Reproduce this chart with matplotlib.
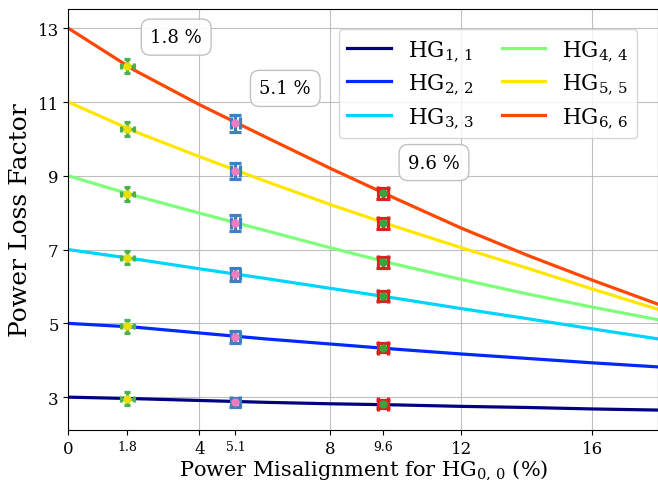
import matplotlib.pyplot as plt
import numpy as np

plt.rcParams['font.family'] = 'DejaVu Serif'
plt.rcParams['mathtext.fontset'] = 'dejavuserif'

# curves
x_curve = [0, 2, 4, 6, 8, 10, 12, 14, 16, 18]
hg11 = [3.00, 2.96, 2.91, 2.86, 2.82, 2.79, 2.75, 2.72, 2.68, 2.65]
hg22 = [5.00, 4.90, 4.74, 4.58, 4.44, 4.30, 4.17, 4.05, 3.93, 3.82]
hg33 = [7.00, 6.75, 6.48, 6.22, 5.95, 5.68, 5.40, 5.13, 4.85, 4.58]
hg44 = [9.00, 8.47, 7.99, 7.52, 7.05, 6.60, 6.19, 5.80, 5.44, 5.10]
hg55 = [11.00, 10.21, 9.52, 8.86, 8.22, 7.62, 7.05, 6.50, 5.93, 5.38]
hg66 = [13.00, 11.87, 10.93, 10.06, 9.20, 8.38, 7.58, 6.85, 6.17, 5.52]
curves = [hg11, hg22, hg33, hg44, hg55, hg66]
labels = [r'HG$_{%d,\,%d}$' % (n, n) for n in range(1, 7)]

# measured points
x_meas = [1.8, 5.1, 9.6]
y_18 = [2.96, 4.92, 6.78, 8.52, 10.27, 11.97]
y_51 = [2.86, 4.63, 6.33, 7.72, 9.13, 10.42]
y_96 = [2.81, 4.34, 5.74, 6.66, 7.72, 8.53]
yerr_18 = [0.18, 0.18, 0.18, 0.19, 0.19, 0.19]
yerr_51 = [0.13, 0.15, 0.17, 0.22, 0.22, 0.22]
yerr_96 = [0.10, 0.12, 0.14, 0.15, 0.15, 0.15]
xerr_meas = [0.2, 0.14, 0.16]

fig = plt.figure(figsize=(6.58, 4.81), dpi=100)
ax = fig.add_axes([0.104, 0.104, 0.896, 0.875])

colors = plt.cm.jet(np.arange(6) / 6)
for ys, c, lab in zip(curves, colors, labels):
    ax.plot(x_curve, ys, color=c, lw=2.3, label=lab)

meas = [(x_meas[0], y_18, yerr_18, '#4caf50', '#e8e000', 2.5),
        (x_meas[1], y_51, yerr_51, '#3f7fbf', '#f07cc0', 4.5),
        (x_meas[2], y_96, yerr_96, '#e02020', '#3fa040', 5)]
for (xm, ym, ye, ec, mc, cs), xe in zip(meas, xerr_meas):
    ax.errorbar([xm] * len(ym), ym, xerr=xe, yerr=ye, fmt='o', ms=5,
                mfc=mc, mec=mc, ecolor=ec, elinewidth=2.3, capsize=cs,
                capthick=2.3, zorder=5)

box = dict(boxstyle='round,pad=0.5', fc='white', ec='#bbbbbb', alpha=0.9)
ax.text(3.29, 12.76, '1.8 %', fontsize=13, ha='center', va='center', bbox=box)
ax.text(6.62, 11.37, '5.1 %', fontsize=13, ha='center', va='center', bbox=box)
ax.text(11.16, 9.36, '9.6 %', fontsize=13, ha='center', va='center', bbox=box)

ax.set_xlim(0, 18)
ax.set_ylim(2.11, 13.52)
ax.set_xticks([0, 4, 8, 12, 16])
ax.set_xticks(x_meas, minor=True)
ax.set_xticklabels(['1.8', '5.1', '9.6'], minor=True, fontsize=9)
ax.set_yticks([3, 5, 7, 9, 11, 13])
ax.tick_params(axis='both', which='major', labelsize=12)
ax.tick_params(axis='x', which='minor', length=3.5, width=0.8)
ax.grid(True, which='major', color='#b0b0b0', lw=0.8, alpha=0.8)

ax.set_xlabel(r'Power Misalignment for HG$_{0,\,0}$ (%)', fontsize=15, labelpad=0)
ax.set_ylabel('Power Loss Factor', fontsize=18)

ax.legend(ncol=2, fontsize=15.5, loc='upper right', bbox_to_anchor=(0.965, 0.952),
          borderaxespad=0, columnspacing=1.3, handlelength=2.0, labelspacing=0.4)

fig.savefig('out.png', dpi=100)
